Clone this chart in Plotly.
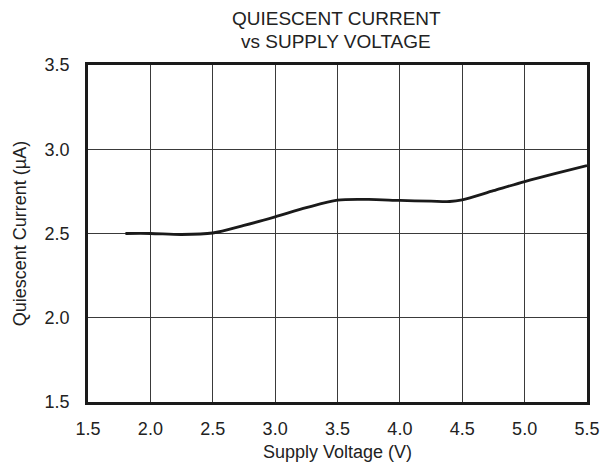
import plotly.graph_objects as go

supply_voltage = [1.8, 2.0, 2.25, 2.5, 2.75, 3.0, 3.25, 3.5, 3.75, 4.0, 4.25, 4.4, 4.5, 4.75, 5.0, 5.25, 5.5]
quiescent_current = [2.50, 2.50, 2.494, 2.503, 2.548, 2.599, 2.653, 2.698, 2.702, 2.696, 2.692, 2.690, 2.700, 2.754, 2.808, 2.857, 2.903]

x_ticks = [1.5, 2.0, 2.5, 3.0, 3.5, 4.0, 4.5, 5.0, 5.5]
y_ticks = [1.5, 2.0, 2.5, 3.0, 3.5]
title_lines = ["QUIESCENT CURRENT", "vs SUPPLY VOLTAGE"]

FAM = "Liberation Sans, Arial, sans-serif"
font = dict(family=FAM, size=18, color="#222")

fig = go.Figure()
fig.add_trace(go.Scatter(
    x=supply_voltage, y=quiescent_current, mode="lines",
    line=dict(color="#1a1a1a", width=2.8, shape="spline", smoothing=0.8),
    showlegend=False, hoverinfo="skip"))

axis_common = dict(showline=True, linecolor="#1a1a1a", linewidth=2.8, mirror=True,
                   showgrid=True, gridcolor="#3a3a3a", gridwidth=1, zeroline=False,
                   ticks="", tickfont=font, automargin=False)

W, H = 604, 468
ML, MT, MR, MB = 88, 65, 17, 66
plot_h = H - MT - MB

def paper_y(py):
    return 1 + (MT - py) / plot_h

fig.update_layout(
    width=W, height=H,
    margin=dict(l=ML, r=MR, t=MT, b=MB),
    paper_bgcolor="white", plot_bgcolor="white",
    font=font,
    xaxis=dict(range=[1.5, 5.5], tickvals=x_ticks, ticktext=[f"{v:.1f}" for v in x_ticks],
               ticklabelstandoff=8,
               title=dict(text="Supply Voltage (V)", font=font, standoff=8), **axis_common),
    yaxis=dict(range=[1.5, 3.5], tickvals=y_ticks, ticktext=[f"{v:.1f}" for v in y_ticks],
               ticklabelstandoff=12,
               title=dict(text="Quiescent Current (µA)", font=font, standoff=14), **axis_common),
)

for txt, py in zip(title_lines, [19, 42]):
    fig.add_annotation(text=txt, xref="paper", yref="paper", x=0.497, y=paper_y(py),
                       xanchor="center", yanchor="middle", showarrow=False,
                       font=dict(family=FAM, size=19, color="#222"))

fig.write_html("out.html", config={"displayModeBar": False},
               post_script="document.body.style.margin='0';document.body.style.overflow='hidden';")
